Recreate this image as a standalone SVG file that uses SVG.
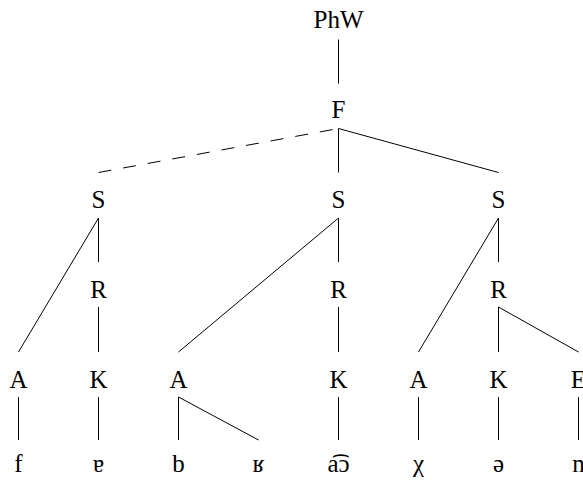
<svg xmlns="http://www.w3.org/2000/svg" width="583" height="482" viewBox="0 0 583 482">
<style>
text{font-family:"Liberation Serif","DejaVu Serif",serif;font-size:25px;fill:#000;text-anchor:middle}
.e{stroke:#000;stroke-width:1;fill:none}
.d{stroke-dasharray:13 12}
</style>
<rect width="583" height="482" fill="#fff"/>
<g id="connectors">
<line class="e" x1="338.5" y1="39.5" x2="338.5" y2="83.5"/>
<line class="e d" x1="98.5" y1="172.5" x2="338.5" y2="128.5"/>
<line class="e" x1="338.5" y1="128.5" x2="338.5" y2="172.5"/>
<line class="e" x1="338.5" y1="128.5" x2="498.5" y2="172.5"/>
<line class="e" x1="98.5" y1="218" x2="18.5" y2="352"/>
<line class="e" x1="98.5" y1="218" x2="98.5" y2="262"/>
<line class="e" x1="338.5" y1="218" x2="178.5" y2="352"/>
<line class="e" x1="338.5" y1="218" x2="338.5" y2="262"/>
<line class="e" x1="498.5" y1="218" x2="418.5" y2="352"/>
<line class="e" x1="498.5" y1="218" x2="498.5" y2="262"/>
<line class="e" x1="98.5" y1="307" x2="98.5" y2="352"/>
<line class="e" x1="338.5" y1="307" x2="338.5" y2="352"/>
<line class="e" x1="498.5" y1="307" x2="498.5" y2="352"/>
<line class="e" x1="498.5" y1="307" x2="578.5" y2="352"/>
<line class="e" x1="18.5" y1="397" x2="18.5" y2="440"/>
<line class="e" x1="98.5" y1="397" x2="98.5" y2="440"/>
<line class="e" x1="178.5" y1="397" x2="178.5" y2="440"/>
<line class="e" x1="178.5" y1="397" x2="258.5" y2="440"/>
<line class="e" x1="338.5" y1="397" x2="338.5" y2="440"/>
<line class="e" x1="418.5" y1="397" x2="418.5" y2="440"/>
<line class="e" x1="498.5" y1="397" x2="498.5" y2="440"/>
<line class="e" x1="578.5" y1="397" x2="578.5" y2="440"/>
</g>
<g id="n-phw"><text x="338.5" y="28">PhW</text></g>
<g id="n-f"><text x="338.5" y="118">F</text></g>
<g id="n-s1"><text x="98.5" y="208">S</text></g>
<g id="n-s2"><text x="338.5" y="208">S</text></g>
<g id="n-s3"><text x="498.5" y="208">S</text></g>
<g id="n-r1"><text x="98.5" y="298">R</text></g>
<g id="n-r2"><text x="338.5" y="298">R</text></g>
<g id="n-r3"><text x="498.5" y="298">R</text></g>
<g id="n-a1"><text x="18.5" y="388">A</text></g>
<g id="n-k1"><text x="98.5" y="388">K</text></g>
<g id="n-a2"><text x="178.5" y="388">A</text></g>
<g id="n-k2"><text x="338.5" y="388">K</text></g>
<g id="n-a3"><text x="418.5" y="388">A</text></g>
<g id="n-k3"><text x="498.5" y="388">K</text></g>
<g id="n-e3"><text x="578.5" y="388">E</text></g>
<g id="l-f"><text x="18.5" y="472">f</text></g>
<g id="l-turned-a"><text x="98.5" y="472">ɐ</text></g>
<g id="l-b"><text x="178.5" y="472">b</text></g>
<g id="l-r"><text x="258.5" y="472">ʁ</text></g>
<g id="l-ao"><text x="338.5" y="472">a͡ɔ</text></g>
<g id="l-chi"><text x="418.5" y="472">χ</text></g>
<g id="l-schwa"><text x="498.5" y="472">ə</text></g>
<g id="l-n"><text x="578.5" y="472">n</text></g>
</svg>
